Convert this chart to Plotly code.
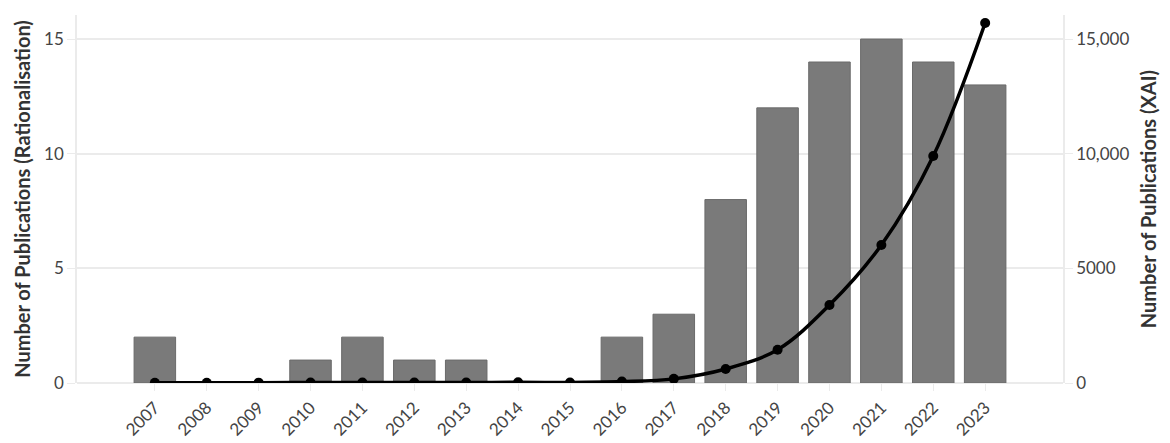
import plotly.graph_objects as go

years = list(range(2007, 2024))
rationalisation = [2, 0, 0, 1, 2, 1, 1, 0, 0, 2, 3, 8, 12, 14, 15, 14, 13]
xai = [10, 12, 15, 18, 20, 25, 20, 30, 25, 60, 180, 610, 1450, 3400, 6020, 9900, 15700]
y_ticks_left = [0, 5, 10, 15]
y_ticks_right = [0, 5000, 10000, 15000]
y_ticklabels_right = ["0", "5000", "10,000", "15,000"]

font_family = "Source Sans Pro, Lato, Open Sans, sans-serif"
grid = "#ebebeb"

fig = go.Figure()
fig.add_trace(go.Bar(
    x=years, y=rationalisation, width=0.8,
    marker=dict(color="#7a7a7a", line=dict(color="#6a6a6a", width=1)),
    yaxis="y", showlegend=False,
))
fig.add_trace(go.Scatter(
    x=years, y=xai, mode="lines+markers",
    line=dict(color="black", width=3.5, shape="spline", smoothing=1.0),
    marker=dict(color="black", size=10),
    yaxis="y2", showlegend=False,
))

# page body has an 8px default margin; figure is sized to fit the window
fig.update_layout(
    width=1162, height=435,
    margin=dict(l=69, r=107, t=7, b=60),
    plot_bgcolor="white", paper_bgcolor="white",
    font=dict(family=font_family, color="#444444"),
    bargap=0.2,
    xaxis=dict(
        range=[2005.5, 2024.5], tickvals=years, ticktext=[str(y) for y in years],
        tickangle=-45, tickfont=dict(size=17, color="#444444"),
        showgrid=False, zeroline=False, showline=False,
        ticks="outside", ticklen=7, tickcolor=grid, tickwidth=1,
        automargin=False,
    ),
    yaxis=dict(
        range=[0, 16.05], tickvals=y_ticks_left,
        tickfont=dict(size=17, color="#444444"),
        showgrid=True, gridcolor=grid, gridwidth=1.5,
        zeroline=True, zerolinecolor=grid, zerolinewidth=1.5,
        showline=True, linecolor=grid, linewidth=1.5,
        ticks="outside", ticklen=8, tickcolor=grid,
        automargin=False,
        title=dict(text="Number of Publications (Rationalisation)",
                   font=dict(size=20, color="#333333", weight="bold"), standoff=8),
    ),
    yaxis2=dict(
        range=[0, 16050], tickvals=y_ticks_right, ticktext=y_ticklabels_right,
        overlaying="y", side="right",
        tickfont=dict(size=17, color="#444444"),
        showgrid=False, zeroline=False,
        showline=True, linecolor=grid, linewidth=1.5,
        ticks="outside", ticklen=8, tickcolor=grid,
        automargin=False,
        title=dict(text="Number of Publications (XAI)",
                   font=dict(size=20, color="#333333", weight="bold"), standoff=14),
    ),
)

fig.write_html("out.html")
